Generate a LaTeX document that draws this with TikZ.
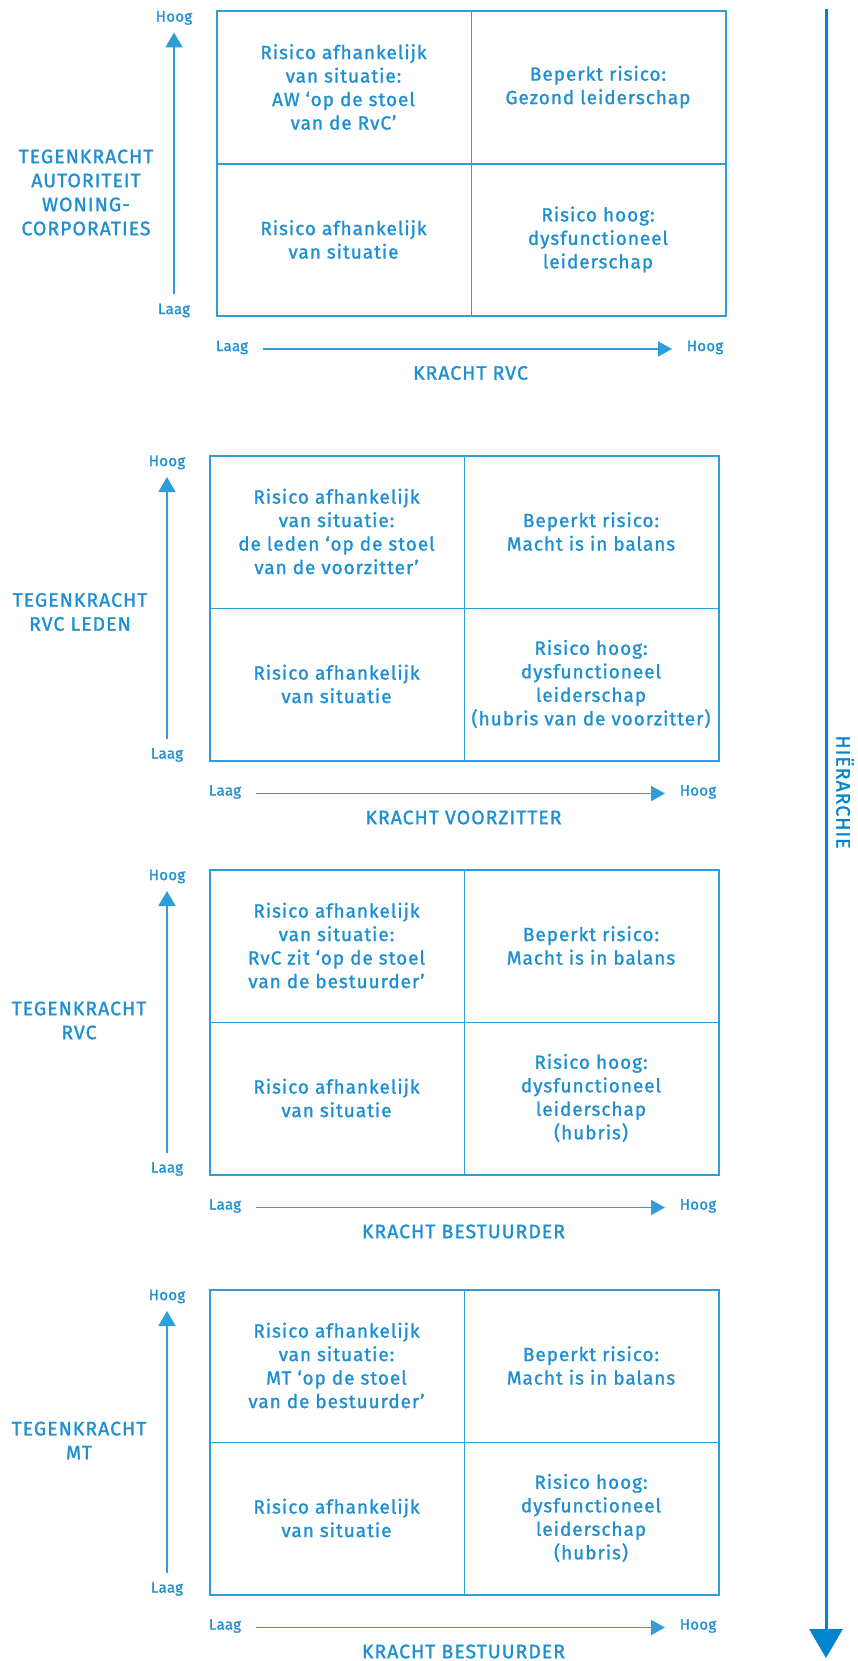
\documentclass[tikz,border=0pt]{standalone}
\usepackage{fontspec}
\setmainfont{Fira Sans}[FakeBold=1.2]
\newfontfamily\cellfont{Fira Sans}[LetterSpace=5,FakeBold=1.2]
\newfontfamily\capfont{Fira Sans}[LetterSpace=5,FakeBold=1.2]
\newfontfamily\tickfont{Fira Sans}[LetterSpace=2,FakeBold=1.2]
\usetikzlibrary{arrows.meta}
\definecolor{txtblue}{RGB}{30,144,210}
\definecolor{lineblue}{RGB}{45,158,218}
\definecolor{hierblue}{RGB}{0,132,206}
\tikzset{
  quadbox/.style={draw=lineblue, line width=1.6pt, minimum width=509pt, minimum height=305pt, inner sep=0pt, anchor=north west},
  divline/.style={draw=lineblue, line width=1.5pt},
  celltext/.style={text=txtblue, align=center, font=\cellfont\fontsize{19}{23.5}\selectfont, inner sep=0pt},
  sidelabel/.style={text=txtblue, align=center, font=\capfont\fontsize{19.5}{24}\selectfont, inner sep=0pt},
  ticklabel/.style={text=txtblue, font=\tickfont\fontsize{15}{16}\selectfont, inner sep=0pt},
  axisarrow/.style={draw=lineblue, line width=1.8pt, -{Triangle[length=15pt,width=17pt]}},
  haxisarrow/.style={draw=lineblue, line width=1.8pt, -{Triangle[length=14pt,width=15pt]}},
  axistitle/.style={text=txtblue, font=\capfont\fontsize{19.5}{20}\selectfont, inner sep=0pt},
}
% #1 prefix, #2 x left, #3 y top, #4 x-axis title, #5 TL, #6 TR, #7 BL, #8 BR
\newcommand\riskpanel[8]{%
  \node[quadbox] (#1box) at (#2,#3) {};
  \draw[divline] (#1box.north) -- (#1box.south);
  \draw[divline] (#1box.west) -- (#1box.east);
  \node[celltext] (#1tl) at (#2+127.5,#3+76.5) {#5};
  \node[celltext] (#1tr) at (#2+382,#3+76.5) {#6};
  \node[celltext] (#1bl) at (#2+127.5,#3+229) {#7};
  \node[celltext] (#1br) at (#2+382,#3+229) {#8};
  % vertical axis
  \node[ticklabel] (#1vhi) at (#2-42,#3+7.5) {Hoog};
  \node[ticklabel] (#1vlo) at (#2-42,#3+300) {Laag};
  \coordinate (#1vs) at (#2-42,#3+284);
  \coordinate (#1ve) at (#2-42,#3+22);
  \draw[axisarrow] (#1vs) -- (#1ve);
  % horizontal axis
  \node[ticklabel] (#1hlo) at (#2+16,#3+337) {Laag};
  \node[ticklabel] (#1hhi) at (#2+489,#3+337) {Hoog};
  \coordinate (#1hs) at (#2+47,#3+338.5);
  \coordinate (#1he) at (#2+456,#3+338.5);
  \draw[haxisarrow] (#1hs) -- (#1he);
  \node[axistitle] (#1title) at (#2+254.5,#3+362.5) {#4};
}
\begin{document}
\begin{tikzpicture}[x=1pt,y=-1pt]
\useasboundingbox[fill=white] (0,0) rectangle (857,1661);

\riskpanel{a}{216}{10.5}{KRACHT RVC}
  {Risico afhankelijk\\van situatie:\\AW ‘op de stoel\\van de RvC’}
  {Beperkt risico:\\Gezond leiderschap}
  {Risico afhankelijk\\van situatie}
  {Risico hoog:\\dysfunctioneel\\leiderschap}
\node[sidelabel] (aside) at (86,192.5) {TEGENKRACHT\\AUTORITEIT\\WONING-\\CORPORATIES};

\riskpanel{b}{209}{455}{KRACHT VOORZITTER}
  {Risico afhankelijk\\van situatie:\\de leden ‘op de stoel\\van de voorzitter’}
  {Beperkt risico:\\Macht is in balans}
  {Risico afhankelijk\\van situatie}
  {Risico hoog:\\dysfunctioneel\\leiderschap\\(hubris van de voorzitter)}
\node[sidelabel] (bside) at (80,612) {TEGENKRACHT\\RVC LEDEN};

\riskpanel{c}{209}{869}{KRACHT BESTUURDER}
  {Risico afhankelijk\\van situatie:\\RvC zit ‘op de stoel\\van de bestuurder’}
  {Beperkt risico:\\Macht is in balans}
  {Risico afhankelijk\\van situatie}
  {Risico hoog:\\dysfunctioneel\\leiderschap\\(hubris)}
\node[sidelabel] (cside) at (79,1020.5) {TEGENKRACHT\\RVC};

\riskpanel{d}{209}{1289}{KRACHT BESTUURDER}
  {Risico afhankelijk\\van situatie:\\MT ‘op de stoel\\van de bestuurder’}
  {Beperkt risico:\\Macht is in balans}
  {Risico afhankelijk\\van situatie}
  {Risico hoog:\\dysfunctioneel\\leiderschap\\(hubris)}
\node[sidelabel] (dside) at (79,1440.5) {TEGENKRACHT\\MT};

% hierarchy arrow
\coordinate (htop) at (826,9);
\coordinate (hbot) at (826,1658);
\draw[draw=hierblue, line width=3pt, -{Triangle[length=29pt,width=33pt]}] (htop) -- (hbot);
\node[text=hierblue, font=\capfont\fontsize{19.5}{20}\selectfont, rotate=-90, inner sep=0pt] (hlabel) at (845,792) {HIËRARCHIE};
\end{tikzpicture}
\end{document}
